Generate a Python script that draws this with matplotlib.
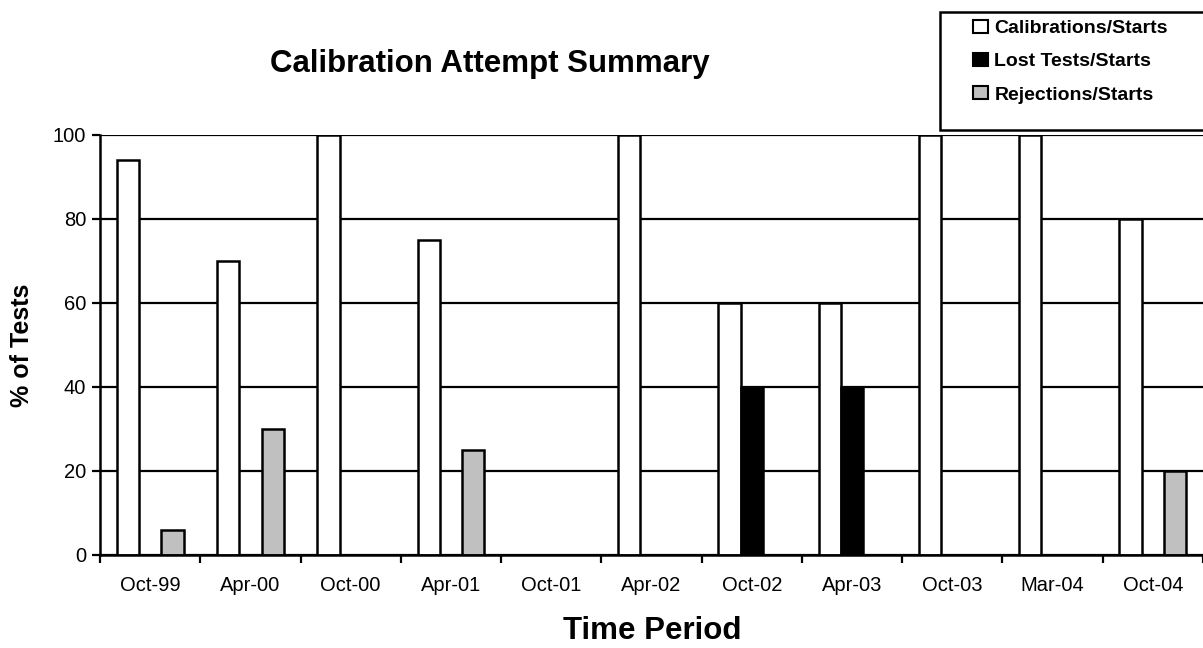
import matplotlib
matplotlib.use("Agg")
import matplotlib.pyplot as plt
import numpy as np
from matplotlib.patches import Patch, Rectangle

plt.rcParams['font.family'] = ['Liberation Sans', 'DejaVu Sans']

periods = ["Oct-99", "Apr-00", "Oct-00", "Apr-01", "Oct-01", "Apr-02",
           "Oct-02", "Apr-03", "Oct-03", "Mar-04", "Oct-04"]
calibrations = [94, 70, 100, 75, 0, 100, 60, 60, 100, 100, 80]
lost_tests = [0, 0, 0, 0, 0, 0, 40, 40, 0, 0, 0]
rejections = [6, 30, 0, 25, 0, 0, 0, 0, 0, 0, 20]
series_names = ["Calibrations/Starts", "Lost Tests/Starts", "Rejections/Starts"]
series_colors = ["white", "black", "#c0c0c0"]

W, H = 1203, 648
fig = plt.figure(figsize=(W / 100, H / 100), dpi=100)
ax = fig.add_axes([100 / W, 1 - 555 / H, (W - 100) / W, 420 / H])

x = np.arange(len(periods)) + 0.5
bw = 1 / 4.5
for i, (vals, col) in enumerate(zip([calibrations, lost_tests, rejections], series_colors)):
    vals = np.asarray(vals, dtype=float)
    ax.bar(x + (i - 1) * bw, vals, width=bw, color=col, edgecolor="black",
           linewidth=np.where(vals > 0, 1.8, 0.0), zorder=3)

ax.set_xlim(0, len(periods))
ax.set_ylim(0, 100)
ax.set_yticks(np.arange(0, 101, 20))
ax.yaxis.grid(True, color="black", linewidth=1.6, zorder=0)
ax.set_axisbelow(True)
ax.set_xticks(np.arange(0, len(periods) + 1))
ax.set_xticklabels([])
ax.set_xticks(x, minor=True)
ax.set_xticklabels(periods, minor=True, fontsize=14.5)
ax.tick_params(axis="x", which="minor", length=0, pad=15)
ax.tick_params(axis="x", which="major", length=6, width=1.6, direction="out")
ax.tick_params(axis="y", length=6, width=1.6, direction="out", labelsize=14.5, pad=4)
for s in ["top", "right"]:
    ax.spines[s].set_visible(False)
for s in ["left", "bottom"]:
    ax.spines[s].set_linewidth(1.8)
    ax.spines[s].set_zorder(4)

ax.set_xlabel("Time Period", fontsize=22.5, fontweight="bold")
ax.xaxis.set_label_coords((652 - 100) / 1103, (555 - 631) / 420)
ax.xaxis.label.set_va("center")
ax.set_ylabel("% of Tests", fontsize=18, fontweight="bold")
ax.yaxis.set_label_coords((22 - 100) / 1103, (555 - 345) / 420)
ax.yaxis.label.set_va("center")

fig.text(490 / W, 1 - 64 / H, "Calibration Attempt Summary", fontsize=22.5,
         fontweight="bold", ha="center", va="center")

# legend box (extends past the right edge)
fig.patches.append(Rectangle((940 / W, 1 - 130 / H), 300 / W, 118 / H,
                             transform=fig.transFigure, facecolor="white",
                             edgecolor="black", linewidth=1.8, zorder=5))
handles = [Patch(facecolor=c, edgecolor="black", linewidth=1.5) for c in series_colors]
leg = fig.legend(handles, series_names, loc="upper left",
                 bbox_to_anchor=(969 / W, 1 - 16 / H), frameon=False,
                 prop={"weight": "bold", "size": 14}, handlelength=0.8,
                 handleheight=0.65, handletextpad=0.3, labelspacing=0.82,
                 borderpad=0.2, borderaxespad=0)
leg.set_zorder(6)

fig.savefig("out.png", dpi=100)
